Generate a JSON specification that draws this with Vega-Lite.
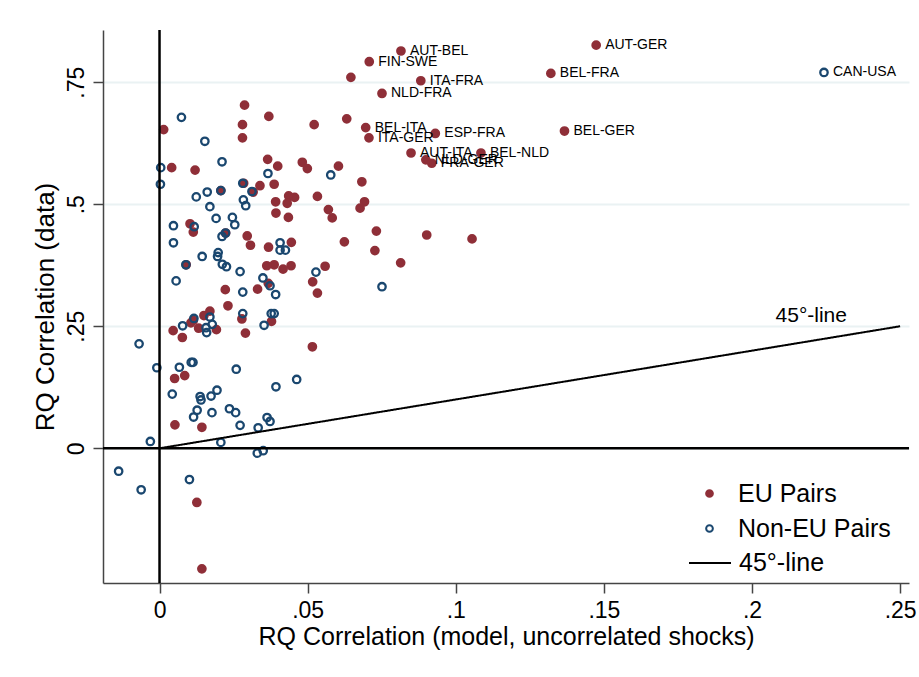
{
  "$schema": "https://vega.github.io/schema/vega-lite/v6.json",
  "width": 806,
  "height": 553,
  "autosize": {"type": "none"},
  "padding": {"left": 103, "top": 30, "right": 10, "bottom": 94},
  "background": "white",
  "config": {
    "view": {"stroke": null},
    "font": "Liberation Sans",
    "axis": {
      "labelFont": "Liberation Sans", "titleFont": "Liberation Sans",
      "labelColor": "#000", "titleColor": "#000", "titleFontWeight": "normal",
      "domainColor": "#444", "tickColor": "#444", "domainWidth": 1.5, "tickWidth": 1.5,
      "tickSize": 10, "labelFontSize": 23, "titleFontSize": 25
    },
    "axisX": {"grid": false},
    "axisY": {"grid": true, "gridColor": "#eaf2f3", "gridWidth": 2},
    "legend": {"labelFont": "Liberation Sans", "labelColor": "#000"}
  },
  "datasets": {
    "pts": [
      {"x":0.0815,"y":0.814,"g":"EU Pairs","label":"AUT-BEL"},
      {"x":0.0708,"y":0.792,"g":"EU Pairs","label":"FIN-SWE"},
      {"x":0.0646,"y":0.760,"g":"EU Pairs"},
      {"x":0.0882,"y":0.753,"g":"EU Pairs","label":"ITA-FRA"},
      {"x":0.0751,"y":0.727,"g":"EU Pairs","label":"NLD-FRA"},
      {"x":0.0632,"y":0.675,"g":"EU Pairs"},
      {"x":0.0696,"y":0.657,"g":"EU Pairs","label":"BEL-ITA"},
      {"x":0.0707,"y":0.636,"g":"EU Pairs","label":"ITA-GER"},
      {"x":0.0931,"y":0.645,"g":"EU Pairs","label":"ESP-FRA"},
      {"x":0.0849,"y":0.605,"g":"EU Pairs","label":"AUT-ITA"},
      {"x":0.1085,"y":0.605,"g":"EU Pairs","label":"BEL-NLD"},
      {"x":0.0899,"y":0.591,"g":"EU Pairs","label":"NLD-GER"},
      {"x":0.0919,"y":0.584,"g":"EU Pairs","label":"FRA-GER"},
      {"x":0.0604,"y":0.578,"g":"EU Pairs"},
      {"x":0.1474,"y":0.826,"g":"EU Pairs","label":"AUT-GER"},
      {"x":0.1321,"y":0.768,"g":"EU Pairs","label":"BEL-FRA"},
      {"x":0.1367,"y":0.650,"g":"EU Pairs","label":"BEL-GER"},
      {"x":0.0014,"y":0.653,"g":"EU Pairs"},
      {"x":0.0041,"y":0.575,"g":"EU Pairs"},
      {"x":0.0120,"y":0.570,"g":"EU Pairs"},
      {"x":0.0287,"y":0.703,"g":"EU Pairs"},
      {"x":0.0280,"y":0.663,"g":"EU Pairs"},
      {"x":0.0280,"y":0.636,"g":"EU Pairs"},
      {"x":0.0369,"y":0.680,"g":"EU Pairs"},
      {"x":0.0522,"y":0.663,"g":"EU Pairs"},
      {"x":0.0365,"y":0.592,"g":"EU Pairs"},
      {"x":0.0399,"y":0.578,"g":"EU Pairs"},
      {"x":0.0482,"y":0.586,"g":"EU Pairs"},
      {"x":0.0499,"y":0.573,"g":"EU Pairs"},
      {"x":0.0683,"y":0.546,"g":"EU Pairs"},
      {"x":0.0692,"y":0.505,"g":"EU Pairs"},
      {"x":0.0677,"y":0.492,"g":"EU Pairs"},
      {"x":0.0570,"y":0.489,"g":"EU Pairs"},
      {"x":0.0583,"y":0.472,"g":"EU Pairs"},
      {"x":0.0284,"y":0.543,"g":"EU Pairs"},
      {"x":0.0339,"y":0.538,"g":"EU Pairs"},
      {"x":0.0387,"y":0.541,"g":"EU Pairs"},
      {"x":0.0207,"y":0.528,"g":"EU Pairs"},
      {"x":0.0316,"y":0.525,"g":"EU Pairs"},
      {"x":0.0436,"y":0.517,"g":"EU Pairs"},
      {"x":0.0456,"y":0.514,"g":"EU Pairs"},
      {"x":0.0533,"y":0.516,"g":"EU Pairs"},
      {"x":0.0392,"y":0.505,"g":"EU Pairs"},
      {"x":0.0431,"y":0.502,"g":"EU Pairs"},
      {"x":0.0393,"y":0.482,"g":"EU Pairs"},
      {"x":0.0435,"y":0.473,"g":"EU Pairs"},
      {"x":0.0103,"y":0.460,"g":"EU Pairs"},
      {"x":0.0114,"y":0.443,"g":"EU Pairs"},
      {"x":0.0223,"y":0.441,"g":"EU Pairs"},
      {"x":0.0296,"y":0.435,"g":"EU Pairs"},
      {"x":0.0307,"y":0.416,"g":"EU Pairs"},
      {"x":0.0368,"y":0.412,"g":"EU Pairs"},
      {"x":0.0732,"y":0.445,"g":"EU Pairs"},
      {"x":0.0902,"y":0.437,"g":"EU Pairs"},
      {"x":0.1055,"y":0.429,"g":"EU Pairs"},
      {"x":0.0624,"y":0.423,"g":"EU Pairs"},
      {"x":0.0727,"y":0.405,"g":"EU Pairs"},
      {"x":0.0445,"y":0.422,"g":"EU Pairs"},
      {"x":0.0814,"y":0.380,"g":"EU Pairs"},
      {"x":0.0387,"y":0.376,"g":"EU Pairs"},
      {"x":0.0362,"y":0.374,"g":"EU Pairs"},
      {"x":0.0444,"y":0.374,"g":"EU Pairs"},
      {"x":0.0417,"y":0.367,"g":"EU Pairs"},
      {"x":0.0559,"y":0.373,"g":"EU Pairs"},
      {"x":0.0090,"y":0.376,"g":"EU Pairs"},
      {"x":0.0517,"y":0.341,"g":"EU Pairs"},
      {"x":0.0533,"y":0.318,"g":"EU Pairs"},
      {"x":0.0367,"y":0.338,"g":"EU Pairs"},
      {"x":0.0222,"y":0.325,"g":"EU Pairs"},
      {"x":0.0331,"y":0.326,"g":"EU Pairs"},
      {"x":0.0231,"y":0.292,"g":"EU Pairs"},
      {"x":0.0170,"y":0.281,"g":"EU Pairs"},
      {"x":0.0150,"y":0.272,"g":"EU Pairs"},
      {"x":0.0114,"y":0.262,"g":"EU Pairs"},
      {"x":0.0106,"y":0.257,"g":"EU Pairs"},
      {"x":0.0046,"y":0.241,"g":"EU Pairs"},
      {"x":0.0077,"y":0.227,"g":"EU Pairs"},
      {"x":0.0132,"y":0.246,"g":"EU Pairs"},
      {"x":0.0192,"y":0.243,"g":"EU Pairs"},
      {"x":0.0278,"y":0.265,"g":"EU Pairs"},
      {"x":0.0290,"y":0.236,"g":"EU Pairs"},
      {"x":0.0378,"y":0.260,"g":"EU Pairs"},
      {"x":0.0516,"y":0.208,"g":"EU Pairs"},
      {"x":0.0051,"y":0.143,"g":"EU Pairs"},
      {"x":0.0085,"y":0.149,"g":"EU Pairs"},
      {"x":0.0052,"y":0.048,"g":"EU Pairs"},
      {"x":0.0143,"y":0.043,"g":"EU Pairs"},
      {"x":0.0126,"y":-0.111,"g":"EU Pairs"},
      {"x":0.0143,"y":-0.247,"g":"EU Pairs"},
      {"x":0.2243,"y":0.770,"g":"Non-EU Pairs","label":"CAN-USA"},
      {"x":0.0074,"y":0.678,"g":"Non-EU Pairs"},
      {"x":0.0153,"y":0.629,"g":"Non-EU Pairs"},
      {"x":0.0211,"y":0.587,"g":"Non-EU Pairs"},
      {"x":0.0004,"y":0.575,"g":"Non-EU Pairs"},
      {"x":0.0003,"y":0.541,"g":"Non-EU Pairs"},
      {"x":0.0366,"y":0.563,"g":"Non-EU Pairs"},
      {"x":0.0578,"y":0.560,"g":"Non-EU Pairs"},
      {"x":0.0281,"y":0.543,"g":"Non-EU Pairs"},
      {"x":0.0312,"y":0.526,"g":"Non-EU Pairs"},
      {"x":0.0207,"y":0.528,"g":"Non-EU Pairs"},
      {"x":0.0161,"y":0.525,"g":"Non-EU Pairs"},
      {"x":0.0124,"y":0.515,"g":"Non-EU Pairs"},
      {"x":0.0170,"y":0.495,"g":"Non-EU Pairs"},
      {"x":0.0283,"y":0.509,"g":"Non-EU Pairs"},
      {"x":0.0291,"y":0.497,"g":"Non-EU Pairs"},
      {"x":0.0191,"y":0.471,"g":"Non-EU Pairs"},
      {"x":0.0246,"y":0.473,"g":"Non-EU Pairs"},
      {"x":0.0254,"y":0.458,"g":"Non-EU Pairs"},
      {"x":0.0047,"y":0.456,"g":"Non-EU Pairs"},
      {"x":0.0117,"y":0.454,"g":"Non-EU Pairs"},
      {"x":0.0047,"y":0.421,"g":"Non-EU Pairs"},
      {"x":0.0211,"y":0.434,"g":"Non-EU Pairs"},
      {"x":0.0223,"y":0.441,"g":"Non-EU Pairs"},
      {"x":0.0407,"y":0.421,"g":"Non-EU Pairs"},
      {"x":0.0407,"y":0.406,"g":"Non-EU Pairs"},
      {"x":0.0425,"y":0.406,"g":"Non-EU Pairs"},
      {"x":0.0144,"y":0.393,"g":"Non-EU Pairs"},
      {"x":0.0198,"y":0.401,"g":"Non-EU Pairs"},
      {"x":0.0196,"y":0.393,"g":"Non-EU Pairs"},
      {"x":0.0089,"y":0.376,"g":"Non-EU Pairs"},
      {"x":0.0212,"y":0.377,"g":"Non-EU Pairs"},
      {"x":0.0226,"y":0.372,"g":"Non-EU Pairs"},
      {"x":0.0272,"y":0.362,"g":"Non-EU Pairs"},
      {"x":0.0528,"y":0.361,"g":"Non-EU Pairs"},
      {"x":0.0056,"y":0.343,"g":"Non-EU Pairs"},
      {"x":0.0349,"y":0.349,"g":"Non-EU Pairs"},
      {"x":0.0373,"y":0.333,"g":"Non-EU Pairs"},
      {"x":0.0281,"y":0.320,"g":"Non-EU Pairs"},
      {"x":0.0392,"y":0.315,"g":"Non-EU Pairs"},
      {"x":0.0751,"y":0.331,"g":"Non-EU Pairs"},
      {"x":0.0281,"y":0.276,"g":"Non-EU Pairs"},
      {"x":0.0377,"y":0.276,"g":"Non-EU Pairs"},
      {"x":0.0387,"y":0.276,"g":"Non-EU Pairs"},
      {"x":0.0353,"y":0.252,"g":"Non-EU Pairs"},
      {"x":0.0116,"y":0.266,"g":"Non-EU Pairs"},
      {"x":0.0078,"y":0.251,"g":"Non-EU Pairs"},
      {"x":0.0170,"y":0.269,"g":"Non-EU Pairs"},
      {"x":0.0178,"y":0.254,"g":"Non-EU Pairs"},
      {"x":0.0157,"y":0.247,"g":"Non-EU Pairs"},
      {"x":0.0159,"y":0.237,"g":"Non-EU Pairs"},
      {"x":-0.0069,"y":0.214,"g":"Non-EU Pairs"},
      {"x":-0.0009,"y":0.165,"g":"Non-EU Pairs"},
      {"x":0.0067,"y":0.166,"g":"Non-EU Pairs"},
      {"x":0.0107,"y":0.176,"g":"Non-EU Pairs"},
      {"x":0.0113,"y":0.176,"g":"Non-EU Pairs"},
      {"x":0.0259,"y":0.162,"g":"Non-EU Pairs"},
      {"x":0.0393,"y":0.126,"g":"Non-EU Pairs"},
      {"x":0.0463,"y":0.141,"g":"Non-EU Pairs"},
      {"x":0.0043,"y":0.111,"g":"Non-EU Pairs"},
      {"x":0.0137,"y":0.106,"g":"Non-EU Pairs"},
      {"x":0.0140,"y":0.099,"g":"Non-EU Pairs"},
      {"x":0.0174,"y":0.107,"g":"Non-EU Pairs"},
      {"x":0.0194,"y":0.119,"g":"Non-EU Pairs"},
      {"x":0.0127,"y":0.078,"g":"Non-EU Pairs"},
      {"x":0.0115,"y":0.064,"g":"Non-EU Pairs"},
      {"x":0.0177,"y":0.073,"g":"Non-EU Pairs"},
      {"x":0.0236,"y":0.081,"g":"Non-EU Pairs"},
      {"x":0.0257,"y":0.073,"g":"Non-EU Pairs"},
      {"x":0.0272,"y":0.047,"g":"Non-EU Pairs"},
      {"x":0.0333,"y":0.042,"g":"Non-EU Pairs"},
      {"x":0.0363,"y":0.063,"g":"Non-EU Pairs"},
      {"x":0.0373,"y":0.055,"g":"Non-EU Pairs"},
      {"x":-0.0031,"y":0.014,"g":"Non-EU Pairs"},
      {"x":0.0207,"y":0.012,"g":"Non-EU Pairs"},
      {"x":0.0330,"y":-0.010,"g":"Non-EU Pairs"},
      {"x":0.0350,"y":-0.005,"g":"Non-EU Pairs"},
      {"x":-0.0138,"y":-0.047,"g":"Non-EU Pairs"},
      {"x":-0.0062,"y":-0.085,"g":"Non-EU Pairs"},
      {"x":0.0101,"y":-0.064,"g":"Non-EU Pairs"}
    ],
    "line45": [
      {"x":0,"y":0,"s":"45°-line"},
      {"x":0.25,"y":0.25,"s":"45°-line"}
    ],
    "ann": [{"x":0.22,"y":0.271,"t":"45°-line"}],
    "zero": [{"x":0,"y":0,"xlo":-0.01908,"xhi":0.253,"ylo":-0.276,"yhi":0.857}]
  },
  "layer": [
    {
      "data": {"name": "pts"},
      "mark": {"type": "point", "shape": "circle", "size": 55, "strokeWidth": 2.3, "opacity": 1},
      "encoding": {
        "x": {"field": "x", "type": "quantitative",
          "scale": {"domain": [-0.01908, 0.253], "nice": false, "zero": false},
          "axis": {"values": [0, 0.05, 0.1, 0.15, 0.2, 0.25],
            "labelExpr": "datum.value == 0 ? '0' : substring(toString(datum.value), 1)",
            "title": "RQ Correlation (model, uncorrelated shocks)",
            "grid": false, "labelPadding": 6, "titlePadding": 2, "labelFlush": false}},
        "y": {"field": "y", "type": "quantitative",
          "scale": {"domain": [-0.276, 0.857], "nice": false, "zero": false},
          "axis": {"values": [0, 0.25, 0.5, 0.75],
            "labelExpr": "datum.value == 0 ? '0' : substring(toString(datum.value), 1)",
            "title": "RQ Correlation (data)", "titleFontSize": 26,
            "labelAngle": -90, "labelPadding": 5, "titlePadding": 7,
            "grid": true, "gridColor": "#eaf2f3", "gridWidth": 2, "labelFlush": false}},
        "stroke": {"field": "g", "type": "nominal",
          "scale": {"domain": ["EU Pairs", "Non-EU Pairs"], "range": ["#8f2f38", "#1a476f"]},
          "legend": {"orient": "none", "legendX": 594, "legendY": 451, "title": null,
            "labelFontSize": 25, "symbolSize": 45, "symbolStrokeWidth": 2,
            "rowPadding": 9, "labelOffset": 16, "padding": 0, "symbolType": "circle"}},
        "fill": {"field": "g", "type": "nominal",
          "scale": {"domain": ["EU Pairs", "Non-EU Pairs"], "range": ["#8f2f38", "transparent"]},
          "legend": {"orient": "none", "legendX": 594, "legendY": 451, "title": null,
            "labelFontSize": 25, "symbolSize": 45, "symbolStrokeWidth": 2,
            "rowPadding": 9, "labelOffset": 16, "padding": 0, "symbolType": "circle"}}
      }
    },
    {
      "data": {"name": "zero"},
      "mark": {"type": "rule", "color": "#000", "strokeWidth": 2.5},
      "encoding": {
        "x": {"field": "x", "type": "quantitative", "scale": {"domain": [-0.01908, 0.253], "nice": false, "zero": false}},
        "y": {"field": "ylo", "type": "quantitative", "scale": {"domain": [-0.276, 0.857], "nice": false, "zero": false}},
        "y2": {"field": "yhi"}
      }
    },
    {
      "data": {"name": "zero"},
      "mark": {"type": "rule", "color": "#000", "strokeWidth": 2.5},
      "encoding": {
        "y": {"field": "y", "type": "quantitative", "scale": {"domain": [-0.276, 0.857], "nice": false, "zero": false}},
        "x": {"field": "xlo", "type": "quantitative", "scale": {"domain": [-0.01908, 0.253], "nice": false, "zero": false}},
        "x2": {"field": "xhi"}
      }
    },
    {
      "data": {"name": "line45"},
      "mark": {"type": "line", "color": "#000", "strokeWidth": 2},
      "encoding": {
        "x": {"field": "x", "type": "quantitative", "scale": {"domain": [-0.01908, 0.253], "nice": false, "zero": false}},
        "y": {"field": "y", "type": "quantitative", "scale": {"domain": [-0.276, 0.857], "nice": false, "zero": false}},
        "strokeDash": {"field": "s", "type": "nominal",
          "scale": {"domain": ["45°-line"], "range": [[1, 0]]},
          "legend": {"orient": "none", "legendX": 585, "legendY": 511, "title": null,
            "labelFontSize": 25, "symbolType": "stroke", "symbolSize": 1764,
            "symbolStrokeColor": "#000", "symbolStrokeWidth": 2, "labelOffset": 7, "padding": 0}}
      }
    },
    {
      "data": {"name": "pts"},
      "transform": [{"filter": "isValid(datum.label)"}],
      "mark": {"type": "text", "align": "left", "baseline": "middle", "dx": 9, "fontSize": 14, "font": "Liberation Sans", "color": "#000"},
      "encoding": {
        "x": {"field": "x", "type": "quantitative", "scale": {"domain": [-0.01908, 0.253], "nice": false, "zero": false}},
        "y": {"field": "y", "type": "quantitative", "scale": {"domain": [-0.276, 0.857], "nice": false, "zero": false}},
        "text": {"field": "label"}
      }
    },
    {
      "data": {"name": "ann"},
      "mark": {"type": "text", "align": "center", "baseline": "middle", "fontSize": 21, "font": "Liberation Sans", "color": "#000"},
      "encoding": {
        "x": {"field": "x", "type": "quantitative", "scale": {"domain": [-0.01908, 0.253], "nice": false, "zero": false}},
        "y": {"field": "y", "type": "quantitative", "scale": {"domain": [-0.276, 0.857], "nice": false, "zero": false}},
        "text": {"field": "t"}
      }
    }
  ]
}
